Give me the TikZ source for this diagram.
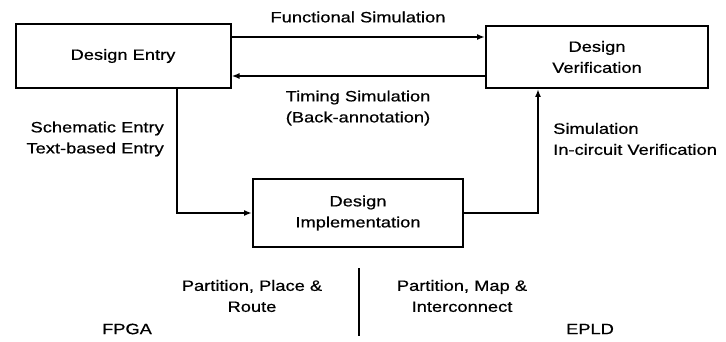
\documentclass[tikz,border=0pt]{standalone}
\usepackage{fontspec}
\setmainfont[FakeStretch=1.22,FakeBold=0.6]{Liberation Sans}
\usetikzlibrary{arrows.meta,calc}

\begin{document}
\begin{tikzpicture}[x=1pt,y=-1pt,
  every node/.style={font=\fontsize{15}{21}\selectfont,inner sep=0pt},
  stagebox/.style={draw,line width=2pt,align=center},
  flow/.style={line width=1.7pt,-{Latex[length=8pt,width=6pt]}},
  plain/.style={line width=1.7pt}]
\useasboundingbox (0,0) rectangle (726,342);

% Draw the three design stages
\node[stagebox,minimum width=215pt,minimum height=64pt] (entry) at (123,56) {Design Entry};
\node[stagebox,minimum width=222pt,minimum height=62pt] (verif) at (597,57) {Design\\Verification};
\node[stagebox,minimum width=210pt,minimum height=68pt] (impl) at (358,213) {Design\\Implementation};

% Simulation loop between entry and verification
\draw[flow] ([yshift=19pt]entry.east) -- ([yshift=19pt]entry.east -| verif.west);
\draw[flow] ([yshift=-20pt]entry.east -| verif.west) -- ([yshift=-20pt]entry.east);
\node (func) at (358,17) {Functional Simulation};
\node[align=center] (timing) at (358,108) {Timing Simulation\\(Back-annotation)};

% Entry -> implementation -> verification
\draw[flow] ([xshift=54pt]entry.south) |- (impl.west);
\draw[flow] (impl.east) -| ([xshift=-59pt]verif.south);
\node[align=right,anchor=east] (entrytypes) at (164,139) {Schematic Entry\\Text-based Entry};
\node[align=left,anchor=west] (veriftypes) at (553,139) {Simulation\\In-circuit Verification};

% Split between the two device families
\coordinate (divtop) at (359,268);
\coordinate (divbot) at (359,336);
\draw[plain] (divtop) -- (divbot);
\node[align=center] (fpgaflow) at (252,296) {Partition, Place \&\\Route};
\node[align=center] (epldflow) at (462,296) {Partition, Map \&\\Interconnect};
\node (fpga) at (127,329) {FPGA};
\node (epld) at (590,329) {EPLD};
\end{tikzpicture}
\end{document}
